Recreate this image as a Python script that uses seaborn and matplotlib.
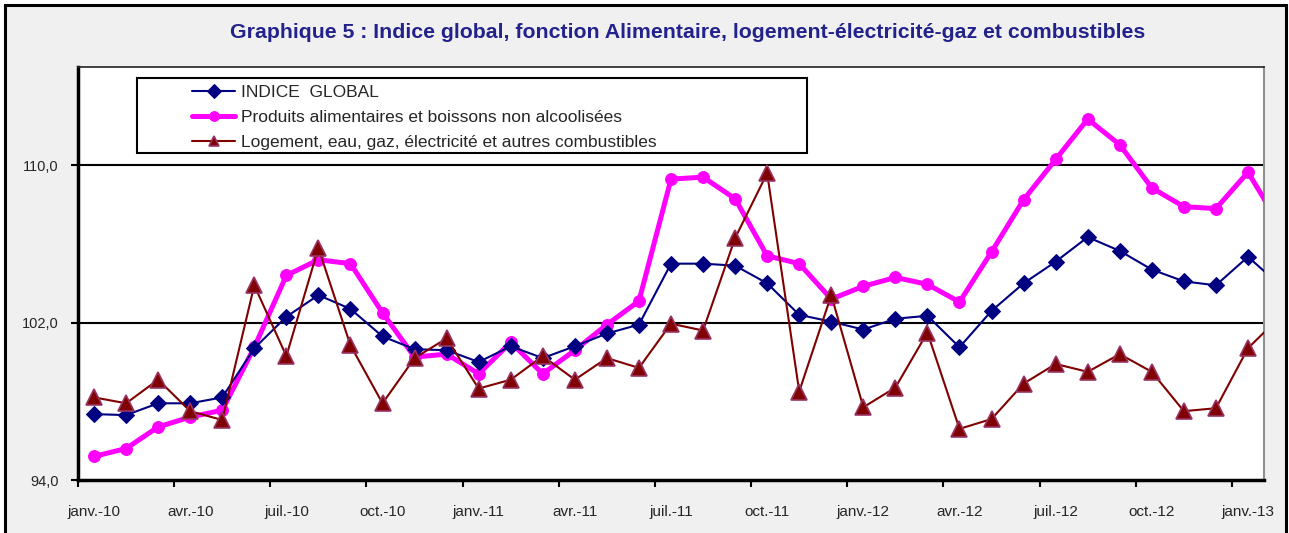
import matplotlib
matplotlib.use("Agg")
import matplotlib.pyplot as plt
import seaborn as sns
import pandas as pd
from matplotlib.patches import Rectangle
from matplotlib.ticker import FixedLocator, FuncFormatter

# mois (janv.-10 .. févr.-13), le dernier point sort du cadre
mois_fr = ["janv.", "févr.", "mars", "avr.", "mai", "juin",
           "juil.", "août", "sept.", "oct.", "nov.", "déc."]
mois = [f"{mois_fr[i % 12]}-{10 + i // 12}" for i in range(38)]

indice_global = [97.35, 97.3, 97.9, 97.9, 98.2, 100.7, 102.3, 103.4, 102.7, 101.3,
                 100.65, 100.6, 100.0, 100.8, 100.2, 100.8, 101.45, 101.9, 105.0, 105.0,
                 104.9, 104.0, 102.4, 102.05, 101.65, 102.2, 102.35, 100.75, 102.6, 104.0,
                 105.1, 106.35, 105.65, 104.7, 104.1, 103.9, 105.35, 103.9]
alimentaire = [95.2, 95.6, 96.7, 97.2, 97.55, 100.75, 104.4, 105.2, 105.0, 102.5,
               100.25, 100.4, 99.4, 101.0, 99.4, 100.6, 101.9, 103.1, 109.3, 109.4,
               108.3, 105.4, 105.0, 103.2, 103.85, 104.3, 103.95, 103.05, 105.6, 108.25,
               110.3, 112.35, 111.05, 108.85, 107.9, 107.8, 109.65, 106.95]
logement = [98.2, 97.9, 99.1, 97.5, 97.05, 103.9, 100.3, 105.8, 100.85, 97.9,
            100.2, 101.2, 98.65, 99.1, 100.3, 99.1, 100.2, 99.7, 101.95, 101.6,
            106.3, 109.6, 98.5, 103.4, 97.7, 98.7, 101.5, 96.6, 97.1, 98.9,
            99.9, 99.5, 100.4, 99.5, 97.5, 97.65, 100.7, 102.3]

noms = ["INDICE  GLOBAL",
        "Produits alimentaires et boissons non alcoolisées",
        "Logement, eau, gaz, électricité et autres combustibles"]

sns.set_style("white")
plt.rcParams["font.family"] = ["Liberation Sans", "DejaVu Sans"]

fig = plt.figure(figsize=(12.89, 5.33), dpi=100)
fig.patch.set_facecolor("white")
fig.patches.append(Rectangle((5 / 1289, -0.05), 1281 / 1289, 1.05 - 5 / 533,
                             transform=fig.transFigure, facecolor="#f0f0f0",
                             edgecolor="black", lw=2.2, zorder=-5))

ax = fig.add_axes([78 / 1289, 1 - 480 / 533, 1186 / 1289, 413 / 533])
ax.set_zorder(2)
ax.set_facecolor("white")

x = list(range(len(mois)))
sns.lineplot(x=x, y=indice_global, ax=ax, color="#000080", lw=1.5,
             marker="D", markersize=8.5, markeredgecolor="#000080",
             label=noms[0], zorder=4)
sns.lineplot(x=x, y=alimentaire, ax=ax, color="#ff00ff", lw=3.6,
             marker="o", markersize=8.5, markeredgecolor="#ff00ff",
             label=noms[1], zorder=3)
sns.lineplot(x=x, y=logement, ax=ax, color="#800000", lw=1.5,
             marker="^", markersize=11, markeredgecolor="#993366",
             markeredgewidth=1.2, label=noms[2], zorder=5)

ax.set_xlim(-0.5, 36.5)
ax.set_ylim(94, 115)

# graduations
ax.yaxis.set_major_locator(FixedLocator([94, 102, 110]))
ax.yaxis.set_major_formatter(FuncFormatter(lambda v, p: f"{v:.1f}".replace(".", ",")))
for yv in (102, 110):
    ax.axhline(yv, color="black", lw=1.5, zorder=1)

ax.xaxis.set_major_locator(FixedLocator([i - 0.5 for i in range(0, 37, 3)]))
ax.xaxis.set_major_formatter(FuncFormatter(lambda v, p: ""))
ax.xaxis.set_minor_locator(FixedLocator(list(range(0, 37, 3))))
ax.set_xticklabels([mois[i] for i in range(0, 37, 3)], minor=True)

ax.tick_params(axis="x", which="major", direction="out", length=5, width=1.5,
               color="black", bottom=True)
ax.tick_params(axis="x", which="minor", length=0, pad=18, labelsize=11)
ax.tick_params(axis="y", direction="out", length=5, width=1.5, color="black",
               left=True, labelsize=10.5, pad=9)
ax.set_xlabel("")
ax.set_ylabel("")

for side in ("left", "bottom"):
    ax.spines[side].set_color("black")
    ax.spines[side].set_linewidth(2.5)
ax.spines["top"].set_color("#222222")
ax.spines["top"].set_linewidth(1.2)
ax.spines["right"].set_color("#909090")
ax.spines["right"].set_linewidth(1.5)

# légende
ax.add_patch(Rectangle(((137 - 78) / 1186, (480 - 153) / 413), 670 / 1186, 75 / 413,
                       transform=ax.transAxes, facecolor="white", edgecolor="black",
                       lw=1.5, zorder=6))
leg = ax.legend(loc="upper left", bbox_to_anchor=((192 - 78) / 1186, (480 - 85) / 413),
                frameon=False, borderpad=0, borderaxespad=0, handlelength=2.5,
                handletextpad=0.3, labelspacing=0.56, fontsize=12.5)
leg.set_zorder(7)
for h in leg.legend_handles:
    h.set_markersize(7)

fig.text(688 / 1289, 1 - 32 / 533,
         "Graphique 5 : Indice global, fonction Alimentaire, logement-électricité-gaz et combustibles",
         ha="center", va="center", fontsize=15.3, fontweight="bold", color="#22228c")

fig.savefig("out.png", dpi=100, facecolor=fig.get_facecolor())
